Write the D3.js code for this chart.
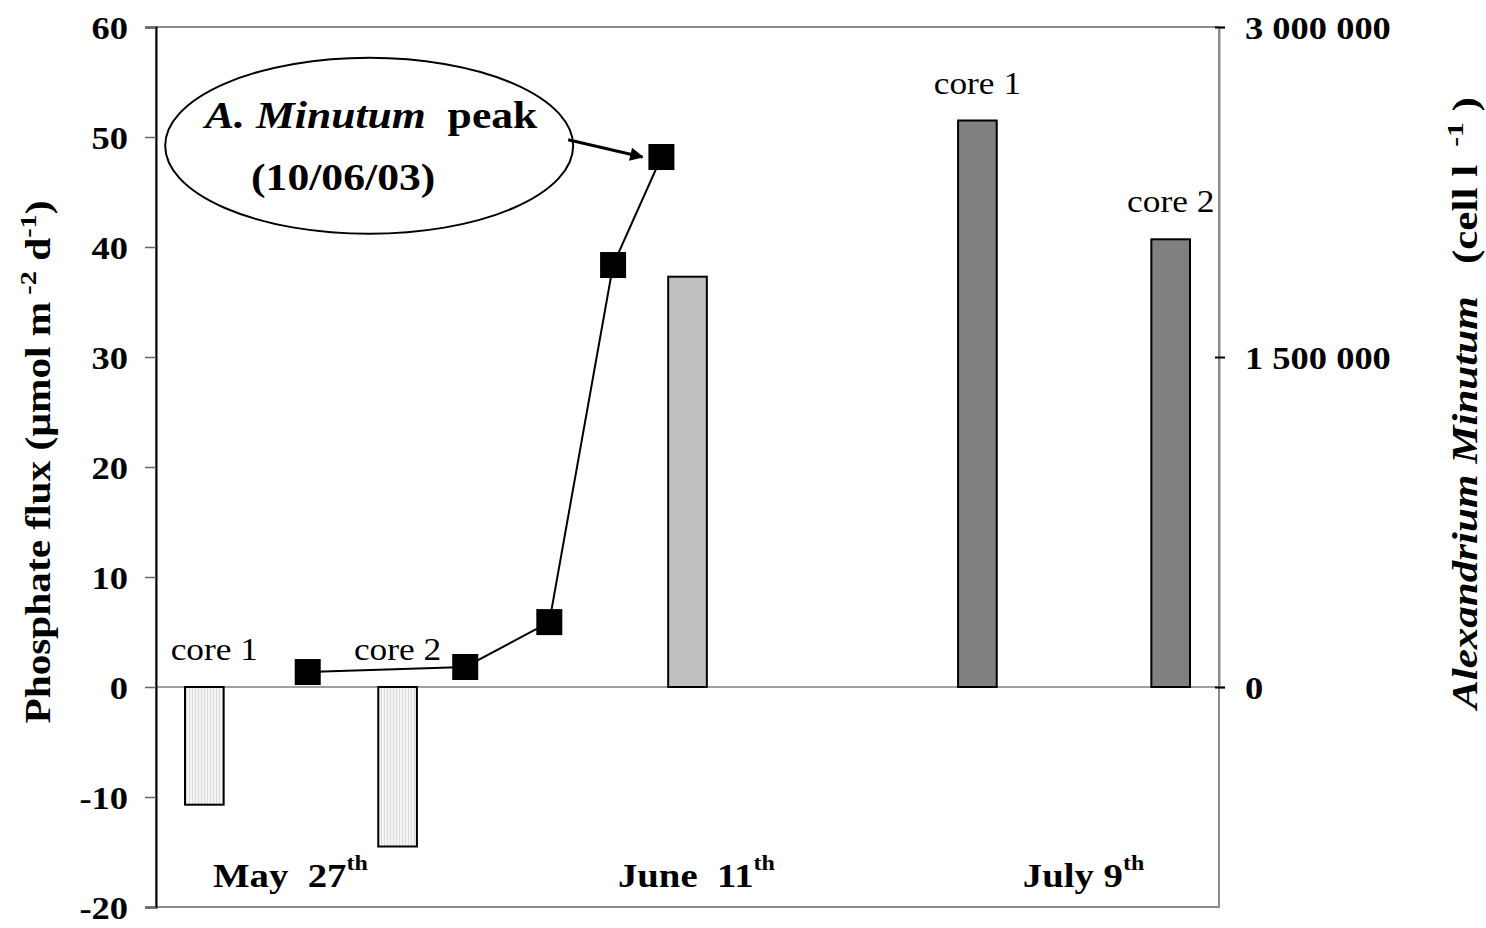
<!DOCTYPE html>
<html><head><meta charset="utf-8">
<script src="https://cdn.jsdelivr.net/npm/d3@7"></script>
<style>
html,body{margin:0;padding:0;background:#fff;}
text{font-family:"Liberation Serif","Times New Roman",serif;white-space:pre;}
</style></head>
<body><svg id="c" width="1486" height="928"></svg>
<script>
// ---- data ----
const barPositions = [0.5, 2.5, 5.5, 8.5, 10.5];          // category slots (11 slots)
const barLabels    = ["core 1", "core 2", "", "core 1", "core 2"];
const barValues    = [-10.7, -14.5, 37.3, 51.5, 40.7];     // phosphate flux
const barKinds     = ["may", "may", "june", "july", "july"];
const linePositions = [1.57, 3.20, 4.07, 4.73, 5.23];
const lineValues    = [68000, 91000, 295000, 1918000, 2409000]; // A. minutum cells/l
const leftTicks  = [-20, -10, 0, 10, 20, 30, 40, 50, 60];
const rightTicks = [0, 1500000, 3000000];
const dateLabels = [["May  27", "th"], ["June  11", "th"], ["July 9", "th"]];
const datePositions = [0.59, 4.78, 8.97];

// ---- layout ----
const L = 156, R = 1219, T = 27, B = 907;
const SX = 1.14; // horizontal glyph stretch of the original typography
const svg = d3.select("#c");
const x = d3.scaleLinear().domain([0, 11]).range([L, R]);
const y = d3.scaleLinear().domain([-20, 60]).range([B, T]);
const y2 = d3.scaleLinear().domain([0, 3000000]).range([y(0), T]);

const defs = svg.append("defs");
const pat = defs.append("pattern").attr("id", "stripe").attr("patternUnits", "userSpaceOnUse")
  .attr("width", 3).attr("height", 10);
pat.append("rect").attr("width", 3).attr("height", 10).attr("fill", "#f4f4f4");
pat.append("rect").attr("width", 1).attr("height", 10).attr("fill", "#dcdcdc");
defs.append("marker").attr("id", "arr").attr("viewBox", "0 0 10 10").attr("refX", 9).attr("refY", 5)
  .attr("markerWidth", 5).attr("markerHeight", 4.5).attr("orient", "auto")
  .append("path").attr("d", "M0,0L10,5L0,10z").attr("fill", "#000");

// plot border (gray)
svg.append("rect").attr("x", L).attr("y", T).attr("width", R - L).attr("height", B - T)
  .attr("fill", "none").attr("stroke", "#8c8c8c").attr("stroke-width", 2);

// zero line
svg.append("line").attr("x1", L).attr("x2", R).attr("y1", y(0)).attr("y2", y(0))
  .attr("stroke", "#808080").attr("stroke-width", 1.5);

// bars
const fills = { may: "url(#stripe)", june: "#c0c0c0", july: "#808080" };
const bw = (x(1) - x(0)) * 0.4;
svg.selectAll("rect.bar").data(barValues).enter().append("rect").attr("class", "bar")
  .attr("x", (d, i) => x(barPositions[i]) - bw / 2)
  .attr("y", d => y(Math.max(0, d)))
  .attr("width", bw)
  .attr("height", d => Math.abs(y(d) - y(0)))
  .attr("fill", (d, i) => fills[barKinds[i]])
  .attr("stroke", "#000").attr("stroke-width", 2);

// bar labels
svg.selectAll("text.bl").data(barValues).enter().append("text").attr("class", "bl")
  .attr("transform", (d, i) => `translate(${x(barPositions[i]) + (i === 0 ? 10 : 0)},${(d > 0 ? y(d) : y(0)) - 27}) scale(${SX},1)`)
  .attr("text-anchor", "middle").attr("font-size", 31)
  .text((d, i) => barLabels[i]);

// left axis
const ax = svg.append("g").attr("transform", `translate(${L},0)`)
  .call(d3.axisLeft(y).tickValues(leftTicks).tickSize(11).tickPadding(17).tickFormat(d => String(d)));
ax.select(".domain").attr("stroke", "#000").attr("stroke-width", 2);
ax.selectAll(".tick line").attr("stroke", "#666").attr("stroke-width", 1.5);
ax.selectAll(".tick text").attr("font-family", "Liberation Serif").attr("font-weight", "bold")
  .attr("font-size", 32).attr("fill", "#000").attr("dy", "0.35em")
  .each(function () { const t = d3.select(this); t.attr("x", +t.attr("x") / SX).attr("transform", `scale(${SX},1)`); });

// right axis
const fmt = v => d3.format(",")(v).replace(/,/g, " ");
const ar = svg.append("g").attr("transform", `translate(${R},0)`)
  .call(d3.axisRight(y2).tickValues(rightTicks).tickSize(6).tickPadding(20).tickFormat(fmt));
ar.select(".domain").attr("stroke", "#8c8c8c").attr("stroke-width", 2);
ar.selectAll(".tick line").attr("stroke", "#000").attr("stroke-width", 2).attr("x1", -4);
ar.selectAll(".tick text").attr("font-family", "Liberation Serif").attr("font-weight", "bold")
  .attr("font-size", 32).attr("fill", "#000").attr("dy", "0.35em")
  .each(function () { const t = d3.select(this); t.attr("x", +t.attr("x") / SX).attr("transform", `scale(${SX},1)`); });

// line + squares
const line = d3.line().x((d, i) => x(linePositions[i])).y(d => y2(d));
svg.append("path").datum(lineValues).attr("d", line).attr("fill", "none")
  .attr("stroke", "#000").attr("stroke-width", 2);
const sq = 26;
svg.selectAll("rect.pt").data(lineValues).enter().append("rect").attr("class", "pt")
  .attr("x", (d, i) => x(linePositions[i]) - sq / 2).attr("y", d => y2(d) - sq / 2)
  .attr("width", sq).attr("height", sq).attr("fill", "#000");

// date labels
dateLabels.forEach((lab, i) => {
  const t = svg.append("text").attr("transform", `translate(${x(datePositions[i])},887) scale(${SX},1)`)
    .attr("font-weight", "bold").attr("font-size", 34);
  t.append("tspan").text(lab[0]);
  t.append("tspan").attr("dy", -17).attr("font-size", 21).text(lab[1]);
});

// ellipse annotation
const last = lineValues.length - 1;
const ecx = x(2.206), ecy = y(49.2);
svg.append("ellipse").attr("cx", ecx).attr("cy", ecy).attr("rx", 204).attr("ry", 88)
  .attr("fill", "#fff").attr("stroke", "#000").attr("stroke-width", 2);
const a1 = svg.append("text").attr("transform", `translate(${ecx + 2},${ecy - 18}) scale(1.18,1)`)
  .attr("text-anchor", "middle").attr("font-size", 37).attr("font-weight", "bold");
a1.append("tspan").attr("font-style", "italic").text("A. Minutum");
a1.append("tspan").text("  peak");
svg.append("text").attr("transform", `translate(${ecx - 26},${ecy + 44}) scale(1.18,1)`)
  .attr("text-anchor", "middle").attr("font-size", 37).attr("font-weight", "bold").text("(10/06/03)");
svg.append("line").attr("x1", ecx + 199).attr("y1", ecy - 6)
  .attr("x2", x(linePositions[last]) - 19).attr("y2", y2(lineValues[last]))
  .attr("stroke", "#000").attr("stroke-width", 3).attr("marker-end", "url(#arr)");

// axis titles
const lt = svg.append("text").attr("transform", `translate(50,462) rotate(-90) scale(1.18,1)`)
  .attr("text-anchor", "middle").attr("font-weight", "bold").attr("font-size", 35);
lt.append("tspan").text("Phosphate flux (µmol m");
lt.append("tspan").attr("dy", -14).attr("font-size", 24).text(" -2");
lt.append("tspan").attr("dy", 14).text(" d");
lt.append("tspan").attr("dy", -14).attr("font-size", 24).text("-1");
lt.append("tspan").attr("dy", 14).text(")");

const rt = svg.append("text").attr("transform", `translate(1477,403) rotate(-90) scale(1.23,1)`)
  .attr("text-anchor", "middle").attr("font-weight", "bold").attr("font-size", 35);
rt.append("tspan").attr("font-style", "italic").text("Alexandrium Minutum");
rt.append("tspan").text("   (cell l ");
rt.append("tspan").attr("dy", -14).attr("font-size", 24).text(" -1");
rt.append("tspan").attr("dy", 14).text(" )");
</script></body></html>
